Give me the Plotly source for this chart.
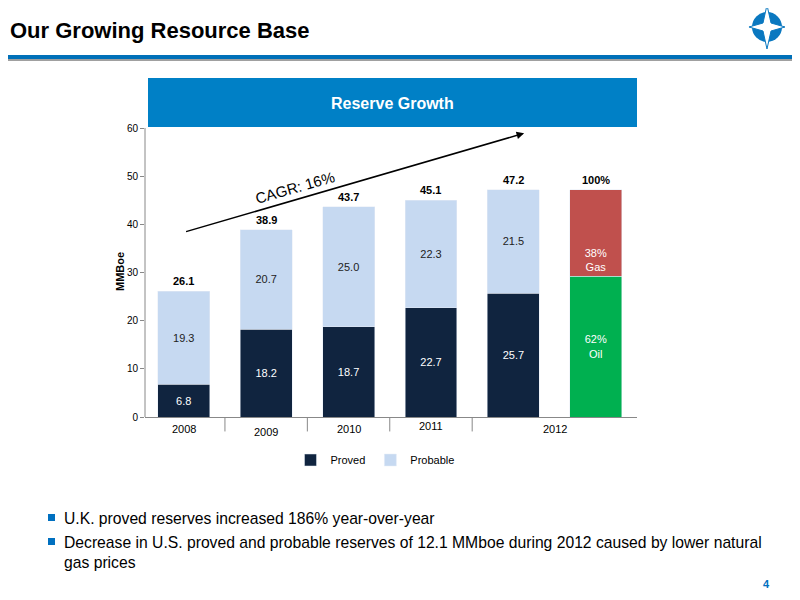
import plotly.graph_objects as go

years = ["2008", "2009", "2010", "2011", "2012"]
proved = [6.8, 18.2, 18.7, 22.7, 25.7]
probable = [19.3, 20.7, 25.0, 22.3, 21.5]
totals = [26.1, 38.9, 43.7, 45.1, 47.2]
oil_share, gas_share = 62, 38

OFF = 8  # page body margin
L, R, T, B = 145 - OFF, 637 - OFF, 128 - OFF, 417 - OFF
W, H = R - L, B - T
def px(X): return (X - OFF - L) / W
def py(Y): return (B - (Y - OFF)) / H

x = [0, 1, 2, 3, 4]
navy, light = "#10243F", "#C6D9F1"
fig = go.Figure()
fig.add_bar(x=x, y=proved, name="Proved", marker_color=navy, width=0.63,
            text=[f"{v:.1f}" for v in proved], textposition="inside", insidetextanchor="middle",
            textfont=dict(color="white", size=11))
fig.add_bar(x=x, y=probable, name="Probable", marker_color=light, width=0.63,
            text=[f"{v:.1f}" for v in probable], textposition="inside", insidetextanchor="middle",
            textfont=dict(color="#222", size=11))
tot12 = totals[-1]
oil = tot12 * oil_share / 100
gas = tot12 * gas_share / 100
fig.add_bar(x=[5], y=[oil], marker_color="#00B050", width=0.63, showlegend=False,
            text=[f"{oil_share}%<br>Oil"], textposition="inside", insidetextanchor="middle",
            textfont=dict(color="white", size=11))
fig.add_bar(x=[5], y=[gas], marker_color="#C0504D", width=0.63, showlegend=False,
            text=[f"{gas_share}%<br>Gas"], textposition="inside", insidetextanchor="start",
            textfont=dict(color="white", size=11))

ann = []
for xi, t in zip(x, totals):
    ann.append(dict(x=xi, y=t, text=f"<b>{t:.1f}</b>", showarrow=False, yshift=10, font=dict(size=11, color="black")))
ann.append(dict(x=5, y=tot12, text="<b>100%</b>", showarrow=False, yshift=10, font=dict(size=11, color="black")))
for xi, lab, dy in [(0, "2008", 0), (1, "2009", -3), (2, "2010", 0), (3, "2011", 3), (4.5, "2012", 0)]:
    ann.append(dict(x=xi, y=0, text=lab, showarrow=False, yshift=-12 + dy, font=dict(size=11, color="black")))
ann.append(dict(x=4.13, y=58.9, ax=0.01, ay=38.4, axref="x", ayref="y", xref="x", yref="y",
                showarrow=True, arrowhead=2, arrowsize=1, arrowwidth=1.5, arrowcolor="black", text=""))
ann.append(dict(x=1.35, y=47.7, text="CAGR: 16%", textangle=-16, showarrow=False, font=dict(size=15, color="black")))
ann.append(dict(xref="paper", yref="paper", x=px(8), y=py(31), xanchor="left", yanchor="middle",
                text="<b>Our Growing Resource Base</b>", showarrow=False, font=dict(size=22, color="black")))
fig.update_layout(annotations=ann)

shapes = [
    dict(type="rect", xref="paper", yref="paper", x0=px(148), x1=px(637), y0=py(127), y1=py(78), fillcolor="#0080C6", line_width=0),
    dict(type="rect", xref="paper", yref="paper", x0=px(0), x1=px(800), y0=py(59), y1=py(55), fillcolor="#0070B8", line_width=0),
    dict(type="rect", xref="paper", yref="paper", x0=px(0), x1=px(800), y0=py(61), y1=py(59), fillcolor="#A0A0A0", line_width=0),
    dict(type="circle", xref="paper", yref="paper", x0=px(752), x1=px(782), y0=py(42), y1=py(12),
         fillcolor="#0A78C0", line_width=0),
    dict(type="line", xref="paper", yref="paper", x0=0, x1=0, y0=0, y1=1, line=dict(color="#888", width=1)),
]
for d in [0.5, 1.5, 2.5, 3.5]:
    shapes.append(dict(type="line", xref="x", yref="paper", x0=d, x1=d, y0=0, y1=-0.05, line=dict(color="#888", width=1)))
cx, cy = px(767), py(27)
sx, sy = 1 / W, 1 / H
pts = [(0, 22), (4, 4), (18, 0), (4, -4), (0, -22), (-4, -4), (-18, 0), (-4, 4)]
path = "M " + " L ".join(f"{cx+a*sx:.4f},{cy+b*sy:.4f}" for a, b in pts) + " Z"
shapes.append(dict(type="path", xref="paper", yref="paper", path=path, fillcolor="white", line=dict(color="#0A78C0", width=1)))
for yy in [517, 541]:
    shapes.append(dict(type="rect", xref="paper", yref="paper", x0=px(48), x1=px(55),
                       y0=py(yy + 4), y1=py(yy - 3), fillcolor="#0070C0", line_width=0))
fig.update_layout(shapes=shapes)

fig.add_annotation(xref="paper", yref="paper", x=px(392), y=py(103), yanchor="middle", text="<b>Reserve Growth</b>",
                   showarrow=False, font=dict(size=16, color="white"))
fig.add_annotation(xref="paper", yref="paper", x=px(112), y=py(272), yanchor="middle", text="<b>MMBoe</b>", textangle=-90,
                   showarrow=False, font=dict(size=11, color="black"))
bul = [(518, "U.K. proved reserves increased 186% year-over-year"),
       (552, "Decrease in U.S. proved and probable reserves of 12.1 MMboe during 2012 caused by lower natural<br>gas prices")]
for yy, t in bul:
    fig.add_annotation(xref="paper", yref="paper", x=px(62), y=py(yy), xanchor="left", yanchor="middle",
                       text=t, align="left", showarrow=False, font=dict(size=15.7, color="black"))
fig.add_annotation(xref="paper", yref="paper", x=px(772), y=py(584), yanchor="middle", text="<b>4</b>", showarrow=False,
                   font=dict(size=11, color="#0070C0"))

fig.update_layout(
    width=800, height=600, barmode="stack",
    margin=dict(l=L, r=800 - R, t=T, b=600 - B),
    paper_bgcolor="white", plot_bgcolor="white",
    font=dict(family="Liberation Sans, Arial", color="black"),
    xaxis=dict(range=[-0.47, 5.5], showticklabels=False, showgrid=False, zeroline=False,
               showline=True, linecolor="#888", ticks=""),
    yaxis=dict(range=[0, 60], dtick=10, showgrid=False, zeroline=False, showline=False,
               ticks="outside", ticklen=4, tickcolor="#888", tickfont=dict(size=10)),
    legend=dict(orientation="h", x=px(375), xanchor="center", y=py(460), yanchor="middle", font=dict(size=11),
                traceorder="normal", itemwidth=30, tracegroupgap=0),
    uniformtext=dict(minsize=8),
)
fig.write_html("out.html")
